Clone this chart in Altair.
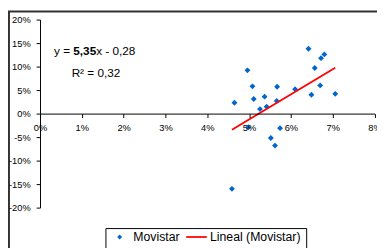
import altair as alt
import pandas as pd

# ---- data ----
ret_x = [4.65, 4.96, 5.08, 5.11, 5.26, 5.37, 5.42, 5.67, 5.66, 6.10, 6.42,
         6.49, 6.57, 6.70, 6.72, 6.80, 7.06, 4.98, 5.74, 5.52, 5.62, 4.59]
ret_y = [2.3, 9.2, 5.8, 3.1, 0.96, 3.6, 1.46, 5.7, 2.7, 5.2, 13.8,
         4.0, 9.7, 6.0, 11.8, 12.6, 4.2, -2.9, -3.1, -5.2, -6.8, -16.0]
trend_x = [4.59, 7.06]
trend_y = [-3.44, 9.78]
x_ticks = [0, 1, 2, 3, 4, 5, 6, 7, 8]
y_ticks = [-20, -15, -10, -5, 0, 5, 10, 15, 20]
eq_text = ["y = ", "5,35", "x - 0,28"]
eq_x = [0.335, 0.796, 1.342]
eq_y = [13.2, 13.2, 13.2]
eq_bold = [False, True, False]
r2_text = ["R\u00b2 = 0,32"]
r2_x = [0.756]
r2_y = [8.67]
legend_labels = ["Movistar", "Lineal (Movistar)"]

W, H = 341.6, 192
FONT = "Liberation Sans"
BLUE = "#0066CC"
RED = "#FF0000"

pts = pd.DataFrame({"x": [v / 100 for v in ret_x], "y": [v / 100 for v in ret_y]})
trend = pd.DataFrame({"x": [v / 100 for v in trend_x], "y": [v / 100 for v in trend_y]})
eq = pd.DataFrame({"x": [v / 100 for v in eq_x], "y": [v / 100 for v in eq_y],
                   "t": eq_text, "b": eq_bold})
r2 = pd.DataFrame({"x": [v / 100 for v in r2_x], "y": [v / 100 for v in r2_y], "t": r2_text})

xscale = alt.Scale(domain=[0, 0.08], nice=False, zero=False)
yscale = alt.Scale(domain=[-0.2, 0.2], nice=False, zero=False)

xax = alt.Axis(values=[v / 100 for v in x_ticks], labelExpr="round(datum.value*100) + '%'",
               grid=False, offset=-96, tickSize=4, labelPadding=5, domainColor="black",
               tickColor="black", labelColor="black", labelFont=FONT, labelFontSize=9.5,
               title=None, labelFlush=False, labelOverlap=False, zindex=1)
yax = alt.Axis(values=[v / 100 for v in y_ticks], labelExpr="round(datum.value*100) + '%'",
               grid=False, tickSize=4, labelPadding=6, domainColor="black",
               tickColor="black", labelColor="black", labelFont=FONT, labelFontSize=9.5,
               title=None, labelFlush=False, labelOverlap=False, zindex=1)


def X(**kw):
    return alt.X("x:Q", scale=xscale, axis=xax, **kw)


def Y(**kw):
    return alt.Y("y:Q", scale=yscale, axis=yax, **kw)


# chart border (decoration)
border = alt.Chart(pd.DataFrame({"a": [0]})).mark_rect(
    fill="transparent", stroke="#333333", strokeWidth=2
).encode(x=alt.value(-31.7), x2=alt.value(420), y=alt.value(-8.3), y2=alt.value(300))

points = alt.Chart(pts).mark_point(shape="diamond", filled=True, size=36, color=BLUE, opacity=1).encode(
    x=X(), y=Y()
)
line = alt.Chart(trend).mark_line(color=RED, strokeWidth=1.8).encode(x=X(), y=Y())
eq_norm = alt.Chart(eq[~eq["b"]]).mark_text(align="left", baseline="middle", font=FONT, fontSize=12,
                                            color="black").encode(x=X(), y=Y(), text="t:N")
eq_bold_layer = alt.Chart(eq[eq["b"]]).mark_text(align="left", baseline="middle", font=FONT, fontSize=12,
                                                 fontWeight="bold", color="black").encode(
    x=X(), y=Y(), text="t:N")
r2_layer = alt.Chart(r2).mark_text(align="left", baseline="middle", font=FONT, fontSize=12,
                                   color="black").encode(x=X(), y=Y(), text="t:N")

# legend
leg_box = alt.Chart(pd.DataFrame({"a": [0]})).mark_rect(
    fill="white", stroke="black", strokeWidth=1
).encode(x=alt.value(67.3), x2=alt.value(272.3), y=alt.value(213.4), y2=alt.value(250))
leg_pt = alt.Chart(pd.DataFrame({"a": [0]})).mark_point(
    shape="diamond", filled=True, size=25, color=BLUE, opacity=1
).encode(x=alt.value(81.3), y=alt.value(222))
leg_line = alt.Chart(pd.DataFrame({"a": [0]})).mark_rule(color=RED, strokeWidth=1.8).encode(
    x=alt.value(149.3), x2=alt.value(170.3), y=alt.value(222)
)
leg_t1 = alt.Chart(pd.DataFrame({"t": [legend_labels[0]]})).mark_text(
    align="left", baseline="middle", font=FONT, fontSize=12.5, color="black"
).encode(x=alt.value(95.3), y=alt.value(222), text="t:N")
leg_t2 = alt.Chart(pd.DataFrame({"t": [legend_labels[1]]})).mark_text(
    align="left", baseline="middle", font=FONT, fontSize=12.5, color="black"
).encode(x=alt.value(173.6), y=alt.value(222), text="t:N")

chart = alt.layer(
    points, border, line, eq_norm, eq_bold_layer, r2_layer, leg_box, leg_pt, leg_line, leg_t1, leg_t2
).properties(
    width=W, height=H, autosize=alt.AutoSizeParams(type="none"),
    padding={"left": 32.7, "top": 9.3, "right": 2.5, "bottom": 38.7},
    background="white"
).configure_view(strokeWidth=0)

chart.save("out.html", embed_options={"renderer": "svg", "actions": False})
